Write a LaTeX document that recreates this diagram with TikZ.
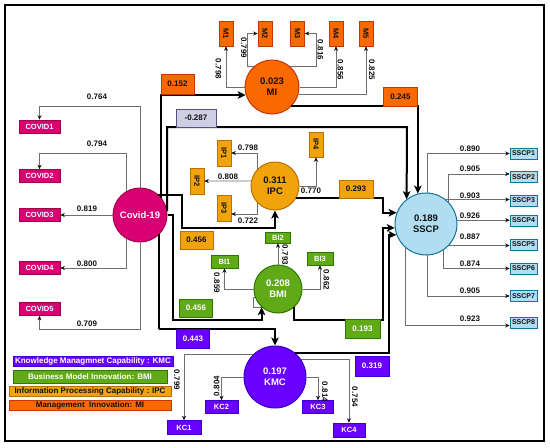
\documentclass[tikz,border=0pt]{standalone}
\usepackage{fontspec}
\setmainfont{Liberation Sans}
\setsansfont{Liberation Sans}
\usetikzlibrary{arrows.meta,calc}
\definecolor{plsInk}{HTML}{111111}
\definecolor{plsLine}{HTML}{6E6E6E}
\definecolor{plsCovid}{HTML}{D80073}
\definecolor{plsCovidEdge}{HTML}{A50040}
\definecolor{plsMI}{HTML}{FA6800}
\definecolor{plsMIEdge}{HTML}{C73500}
\definecolor{plsIPC}{HTML}{F0A30A}
\definecolor{plsIPCEdge}{HTML}{BD7000}
\definecolor{plsBMI}{HTML}{60A917}
\definecolor{plsBMIEdge}{HTML}{2D7600}
\definecolor{plsKMC}{HTML}{6A00FF}
\definecolor{plsKMCEdge}{HTML}{3700CC}
\definecolor{plsSSCP}{HTML}{B1DDF0}
\definecolor{plsSSCPEdge}{HTML}{10739E}
\definecolor{plsNeg}{HTML}{D0CEE2}
\definecolor{plsNegEdge}{HTML}{56517E}
\tikzset{
  pls diagram/.style={x=1pt, y=-1pt, font=\sffamily\bfseries, text=plsInk},
  pls latent/.style={circle, draw, line width=1pt, align=center, inner sep=0pt,
    font=\sffamily\bfseries\fontsize{9.5}{11}\selectfont},
  pls item/.style={draw, line width=0.6pt, inner sep=0pt,
    font=\sffamily\bfseries\fontsize{7.5}{8}\selectfont},
  pls tall/.style={pls item, minimum width=14pt, minimum height=26pt},
  pls coef/.style={pls item, minimum width=33pt, minimum height=18pt,
    font=\sffamily\bfseries\fontsize{8}{9}\selectfont},
  pls key/.style={pls item, minimum height=10pt,
    font=\sffamily\bfseries\fontsize{8}{9}\selectfont},
  pls weight/.style={inner sep=0pt, font=\sffamily\bfseries\fontsize{8}{9}\selectfont},
  pls vweight/.style={pls weight, rotate=-90},
  pls load/.style={draw=plsLine, line width=0.7pt,
    -{Stealth[length=4.5pt,width=4pt,color=plsInk]}},
  pls path/.style={draw=black, line width=2pt,
    -{Stealth[length=8pt,width=7.5pt,inset=2pt]}},
  pls covid/.style={fill=plsCovid, draw=plsCovidEdge, text=white},
  pls mi/.style={fill=plsMI, draw=plsMIEdge, text=plsInk},
  pls ipc/.style={fill=plsIPC, draw=plsIPCEdge, text=plsInk},
  pls bmi/.style={fill=plsBMI, draw=plsBMIEdge, text=white},
  pls kmc/.style={fill=plsKMC, draw=plsKMCEdge, text=white},
  pls sscp/.style={fill=plsSSCP, draw=plsSSCPEdge, text=plsInk},
  pls neg/.style={fill=plsNeg, draw=plsNegEdge, text=plsInk}
}
\begin{document}
\begin{tikzpicture}[pls diagram]
\useasboundingbox (0,0) rectangle (550,448);
\draw[line width=2.4pt] (5,5) rectangle (544,441);

% constructs
\node[pls latent, pls covid, minimum size=54pt] (covid) at (140,215) {Covid-19};
\node[pls latent, pls mi, minimum size=54pt] (mi) at (272,87) {0.023\\MI};
\node[pls latent, pls ipc, minimum size=48pt] (ipc) at (275,186) {0.311\\IPC};
\draw[draw=plsLine, fill=white, line width=0.5pt] (253,297) rectangle (263,307);
\node[pls latent, pls bmi, minimum size=48pt] (bmi) at (278,289) {0.208\\BMI};
\node[pls latent, pls kmc, minimum size=62pt] (kmc) at (275,377) {0.197\\KMC};
\node[pls latent, pls sscp, minimum size=62pt] (sscp) at (426,224) {0.189\\SSCP};

% covid indicators
\node[pls item, pls covid, minimum width=41pt, minimum height=13pt] (covid1) at (39.5,126.5) {COVID1};
\node[pls item, pls covid, minimum width=41pt, minimum height=13pt] (covid2) at (39.5,176) {COVID2};
\node[pls item, pls covid, minimum width=41pt, minimum height=13pt] (covid3) at (39.5,215) {COVID3};
\node[pls item, pls covid, minimum width=41pt, minimum height=13pt] (covid4) at (39.5,268) {COVID4};
\node[pls item, pls covid, minimum width=41pt, minimum height=13pt] (covid5) at (39.5,309) {COVID5};
\draw[pls load] (covid.north) |- ($(covid1.north)+(0,-13)$) -- (covid1.north);
\draw[pls load] (covid.119) |- ($(covid2.north)+(0,-15.5)$) -- (covid2.north);
\draw[pls load] (covid.west) -- (covid3.east);
\draw[pls load] (covid.-119) |- (covid4.east);
\draw[pls load] (covid.south) |- ($(covid5.south)+(0,13.5)$) -- (covid5.south);
\node[pls weight] (l-c1) at (97,97) {0.764};
\node[pls weight] (l-c2) at (97,144) {0.794};
\node[pls weight] (l-c3) at (87,209) {0.819};
\node[pls weight] (l-c4) at (87,264) {0.800};
\node[pls weight] (l-c5) at (87,324) {0.709};

% MI indicators
\node[pls tall, pls mi, minimum height=25pt] (m1) at (226,33.5) {\rotatebox{-90}{M1}};
\node[pls tall, pls mi, minimum height=25pt] (m2) at (265,33.5) {\rotatebox{-90}{M2}};
\node[pls tall, pls mi, minimum height=25pt] (m3) at (297.5,33.5) {\rotatebox{-90}{M3}};
\node[pls tall, pls mi, minimum height=25pt] (m4) at (336,33.5) {\rotatebox{-90}{M4}};
\node[pls tall, pls mi, minimum height=25pt] (m5) at (366,33.5) {\rotatebox{-90}{M5}};
\draw[pls load] (mi.west) -| (m1.south);
\draw[pls load] (mi.132) -- ++(-6,0) |- (m2.west);
\draw[pls load] (mi.48) -- ++(26,0) |- (m3.east);
\draw[pls load] (mi.east) -| (m4.south);
\draw[pls load] (mi.-15) -| (m5.south);
\node[pls vweight] (l-m1) at (218.5,69) {0.798};
\node[pls vweight] (l-m2) at (244,48) {0.799};
\node[pls vweight] (l-m3) at (320.5,50) {0.816};
\node[pls vweight] (l-m4) at (340.5,70) {0.856};
\node[pls vweight] (l-m5) at (372,70) {0.825};

% IPC indicators
\node[pls tall, pls ipc] (ip1) at (224,153) {\rotatebox{-90}{IP1}};
\node[pls tall, pls ipc] (ip2) at (197,181) {\rotatebox{-90}{IP2}};
\node[pls tall, pls ipc] (ip3) at (224,208.5) {\rotatebox{-90}{IP3}};
\node[pls tall, pls ipc, minimum height=25pt] (ip4) at (316,144.5) {\rotatebox{-90}{IP4}};
\draw[pls load] (ipc.135) |- (ip1.east);
\draw[pls load] (ipc.168) -- (ip2.east);
\draw[pls load] (ipc.-135) |- ($(ip3.east)+(0,5.5)$);
\draw[pls load] (ipc.east) -| (ip4.south);
\node[pls weight] (l-ip1) at (248,147.5) {0.798};
\node[pls weight] (l-ip2) at (228,177) {0.808};
\node[pls weight] (l-ip3) at (248,221) {0.722};
\node[pls weight] (l-ip4) at (311,191) {0.770};

% BMI indicators
\node[pls item, pls bmi, minimum width=25pt, minimum height=11pt] (bi2) at (278,237.5) {BI2};
\node[pls item, pls bmi, minimum width=27pt, minimum height=13pt] (bi1) at (224.5,261.5) {BI1};
\node[pls item, pls bmi, minimum width=26pt, minimum height=13pt] (bi3) at (320,258.5) {BI3};
\draw[pls load] (bmi.north) -- (bi2.south);
\draw[pls load] (bmi.west) -| (bi1.south);
\draw[pls load] (bmi.east) -| (bi3.south);
\node[pls vweight] (l-bi2) at (285,255) {0.793};
\node[pls vweight] (l-bi1) at (217,283) {0.859};
\node[pls vweight] (l-bi3) at (326.5,280) {0.862};

% KMC indicators
\node[pls item, pls kmc, minimum width=34pt, minimum height=14pt] (kc1) at (184,427.5) {KC1};
\node[pls item, pls kmc, minimum width=33pt, minimum height=13pt] (kc2) at (221.5,407) {KC2};
\node[pls item, pls kmc, minimum width=31pt, minimum height=13pt] (kc3) at (318,407) {KC3};
\node[pls item, pls kmc, minimum width=32pt, minimum height=14pt] (kc4) at (349,430) {KC4};
\draw[pls load] (kmc.135) -| (kc1.north);
\draw[pls load] (kmc.west) -| (kc2.north);
\draw[pls load] (kmc.east) -| (kc3.north);
\draw[pls load] (kmc.35) -| (kc4.north);
\node[pls vweight] (l-kc1) at (177,380) {0.799};
\node[pls weight, rotate=90] (l-kc2) at (216.5,386) {0.804};
\node[pls vweight] (l-kc3) at (325,392) {0.814};
\node[pls vweight] (l-kc4) at (355,397) {0.754};

% SSCP indicators
\node[pls item, pls sscp, minimum width=27pt, minimum height=11pt, font=\sffamily\bfseries\fontsize{7}{8}\selectfont] (sscp1) at (523.5,153.5) {SSCP1};
\node[pls item, pls sscp, minimum width=27pt, minimum height=11pt, font=\sffamily\bfseries\fontsize{7}{8}\selectfont] (sscp2) at (523.5,177) {SSCP2};
\node[pls item, pls sscp, minimum width=27pt, minimum height=11pt, font=\sffamily\bfseries\fontsize{7}{8}\selectfont] (sscp3) at (523.5,200.5) {SSCP3};
\node[pls item, pls sscp, minimum width=27pt, minimum height=11pt, font=\sffamily\bfseries\fontsize{7}{8}\selectfont] (sscp4) at (523.5,220.5) {SSCP4};
\node[pls item, pls sscp, minimum width=27pt, minimum height=11pt, font=\sffamily\bfseries\fontsize{7}{8}\selectfont] (sscp5) at (523.5,244.5) {SSCP5};
\node[pls item, pls sscp, minimum width=27pt, minimum height=11pt, font=\sffamily\bfseries\fontsize{7}{8}\selectfont] (sscp6) at (523.5,268.5) {SSCP6};
\node[pls item, pls sscp, minimum width=27pt, minimum height=11pt, font=\sffamily\bfseries\fontsize{7}{8}\selectfont] (sscp7) at (523.5,296) {SSCP7};
\node[pls item, pls sscp, minimum width=27pt, minimum height=11pt, font=\sffamily\bfseries\fontsize{7}{8}\selectfont] (sscp8) at (523.5,322.5) {SSCP8};
\draw[pls load] (sscp.88) |- (sscp1.west);
\draw[pls load] (sscp.45) |- ($(sscp2.west)+(0,-3)$);
\draw[pls load] (sscp.51) -- (sscp.51 -| sscp3.west);
\draw[pls load] (sscp.7) -- (sscp.7 -| sscp4.west);
\draw[pls load] (sscp.-43) -- (sscp.-43 -| sscp5.west);
\draw[pls load] (sscp.-57) |- (sscp6.west);
\draw[pls load] (sscp.-88) |- (sscp7.west);
\draw[pls load] (sscp.-130) |- ($(sscp8.west)+(0,3)$);
\node[pls weight] (l-s1) at (470,149) {0.890};
\node[pls weight] (l-s2) at (470,169) {0.905};
\node[pls weight] (l-s3) at (470,196) {0.903};
\node[pls weight] (l-s4) at (470,216) {0.926};
\node[pls weight] (l-s5) at (470,237) {0.887};
\node[pls weight] (l-s6) at (470,263.5) {0.874};
\node[pls weight] (l-s7) at (470,291) {0.905};
\node[pls weight] (l-s8) at (470,319) {0.923};

% structural paths
\coordinate (negbend) at (407,127);
\coordinate (ipcbend) at (182,228);
\coordinate (bmibend) at (173,320);
\coordinate (kmcbend) at (159,329);
\coordinate (busa) at (383,0);
\coordinate (busb) at (389,0);
\draw[pls path] (covid.39) |- (mi.197);
\draw[pls path] (covid.8) |- (negbend) -- (sscp.128);
\draw[pls path] (covid.48) -| (ipcbend) -| (ipc.south);
\draw[pls path] (covid.east) -| (bmibend) -| (bmi.228);
\draw[pls path] (covid.-45) |- (kmcbend) -| (kmc.north);
\draw[pls path] (mi.-45) -| (sscp.105);
\draw[pls path] (ipc.-30) -| (busa |- sscp.159) -- (sscp.159);
\draw[pls path] (bmi.-48) |- (busa |- bmibend) |- (sscp.187);
\draw[pls path] (kmc.51) -| (busb |- sscp.200) -- (sscp.200);

% path coefficients
\node[pls coef, pls mi, minimum height=20pt] (c-covid-mi) at (177.5,84) {0.152};
\node[pls coef, pls mi, minimum width=34pt, minimum height=19pt] (c-mi-sscp) at (400.5,97) {0.245};
\node[pls coef, pls neg, minimum width=40pt] (c-covid-sscp) at (196,118) {-0.287};
\node[pls coef, pls ipc, minimum width=34pt] (c-ipc-sscp) at (356,189) {0.293};
\node[pls coef, pls ipc] (c-covid-ipc) at (196.5,240) {0.456};
\node[pls coef, pls bmi] (c-covid-bmi) at (196,308) {0.456};
\node[pls coef, pls bmi, minimum width=35pt, minimum height=19pt] (c-bmi-sscp) at (362.5,328.5) {0.193};
\node[pls coef, pls kmc, minimum height=19pt] (c-covid-kmc) at (193,339) {0.443};
\node[pls coef, pls kmc, minimum width=34pt, minimum height=20pt] (c-kmc-sscp) at (372,366) {0.319};

% legend
\node[pls key, pls kmc, minimum width=160pt] (key-kmc) at (93,361) {Knowledge Managmnet Capability : KMC};
\node[pls key, pls bmi, minimum width=154pt, minimum height=13pt] (key-bmi) at (90,376.5) {Business Model Innovation: BMI};
\node[pls key, pls ipc, minimum width=162pt] (key-ipc) at (90,391.5) {Information Processing Capability : IPC};
\node[pls key, pls mi, minimum width=162pt] (key-mi) at (90,405) {Management\ \ Innovation: MI};
\end{tikzpicture}
\end{document}
